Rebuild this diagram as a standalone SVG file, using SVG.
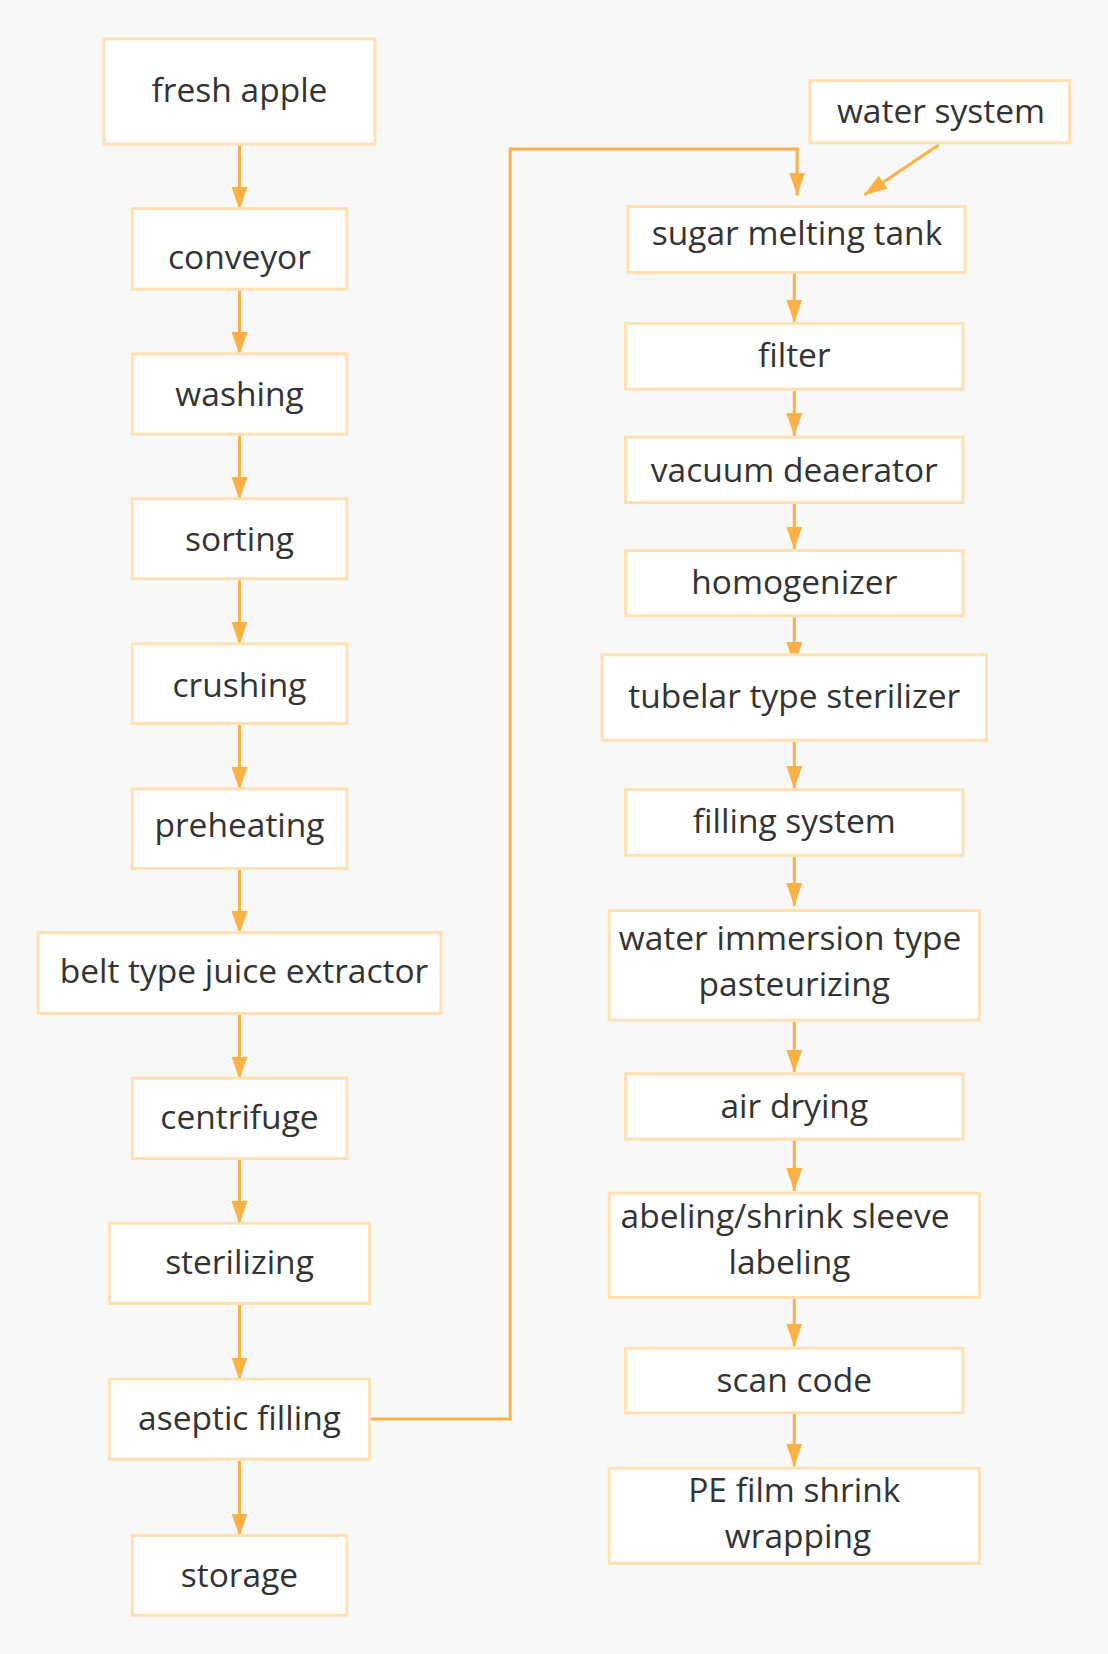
<svg xmlns="http://www.w3.org/2000/svg" width="1108" height="1654" viewBox="0 0 1108 1654">
<style>
.box{fill:#ffffff;stroke:#ffe1b3;stroke-width:3}
.lbl{font-family:"Open Sans","Noto Sans","DejaVu Sans",sans-serif;font-size:33.5px;fill:#333333;text-anchor:middle}
.con{fill:none;stroke:#fdb044;stroke-width:3}
</style>
<defs>
<marker id="ah" markerUnits="userSpaceOnUse" markerWidth="23" markerHeight="16" refX="23" refY="8" orient="auto" viewBox="0 0 23 16">
<path d="M0,0 L23,8 L0,16 z" fill="#fdb044"/>
</marker>
</defs>
<rect x="0" y="0" width="1108" height="1654" fill="#f8f8f8"/>
<g id="connectors">
<line class="con" x1="239.5" y1="145.7" x2="239.5" y2="210" marker-end="url(#ah)"/>
<line class="con" x1="239.5" y1="290.7" x2="239.5" y2="355" marker-end="url(#ah)"/>
<line class="con" x1="239.5" y1="435.7" x2="239.5" y2="500" marker-end="url(#ah)"/>
<line class="con" x1="239.5" y1="580.3" x2="239.5" y2="645" marker-end="url(#ah)"/>
<line class="con" x1="239.5" y1="725" x2="239.5" y2="790" marker-end="url(#ah)"/>
<line class="con" x1="239.5" y1="870" x2="239.5" y2="934" marker-end="url(#ah)"/>
<line class="con" x1="239.5" y1="1015" x2="239.5" y2="1079.5" marker-end="url(#ah)"/>
<line class="con" x1="239.5" y1="1160" x2="239.5" y2="1224" marker-end="url(#ah)"/>
<line class="con" x1="239.5" y1="1305" x2="239.5" y2="1380.5" marker-end="url(#ah)"/>
<line class="con" x1="239.5" y1="1460.7" x2="239.5" y2="1536.5" marker-end="url(#ah)"/>
<path class="con" d="M371,1419 H510.2 V149 H797.1 V195.5" marker-end="url(#ah)"/>
<line class="con" x1="938.5" y1="145" x2="864.2" y2="195" marker-end="url(#ah)"/>
<line class="con" x1="794.3" y1="274" x2="794.3" y2="322.5" marker-end="url(#ah)"/>
<line class="con" x1="794.3" y1="390.7" x2="794.3" y2="436" marker-end="url(#ah)"/>
<line class="con" x1="794.3" y1="504" x2="794.3" y2="549.5" marker-end="url(#ah)"/>
<line class="con" x1="794.3" y1="617.3" x2="794.3" y2="665" marker-end="url(#ah)"/>
<line class="con" x1="794.3" y1="741.7" x2="794.3" y2="789" marker-end="url(#ah)"/>
<line class="con" x1="794.3" y1="856.7" x2="794.3" y2="906" marker-end="url(#ah)"/>
<line class="con" x1="794.3" y1="1021.7" x2="794.3" y2="1072.5" marker-end="url(#ah)"/>
<line class="con" x1="794.3" y1="1140.7" x2="794.3" y2="1191" marker-end="url(#ah)"/>
<line class="con" x1="794.3" y1="1299" x2="794.3" y2="1346.5" marker-end="url(#ah)"/>
<line class="con" x1="794.3" y1="1414.3" x2="794.3" y2="1466.5" marker-end="url(#ah)"/>
</g>
<g id="fresh-apple"><rect class="box" x="104" y="38.8" width="271" height="105.4"/><text class="lbl" x="239.5" y="101.7">fresh apple</text></g>
<g id="conveyor"><rect class="box" x="132.2" y="208.5" width="214.7" height="80.7"/><text class="lbl" x="239.5" y="269">conveyor</text></g>
<g id="washing"><rect class="box" x="132.2" y="353.8" width="214.7" height="80.4"/><text class="lbl" x="239.5" y="406">washing</text></g>
<g id="sorting"><rect class="box" x="132.2" y="498.8" width="214.7" height="80"/><text class="lbl" x="239.5" y="550.7">sorting</text></g>
<g id="crushing"><rect class="box" x="132.2" y="643.8" width="214.7" height="79.7"/><text class="lbl" x="239.5" y="696.7">crushing</text></g>
<g id="preheating"><rect class="box" x="132.2" y="788.8" width="214.7" height="79.7"/><text class="lbl" x="239.5" y="837">preheating</text></g>
<g id="belt-extractor"><rect class="box" x="38.2" y="932.5" width="402.7" height="81"/><text class="lbl" x="244" y="983.3">belt type juice extractor</text></g>
<g id="centrifuge"><rect class="box" x="132.2" y="1078.2" width="214.7" height="80.3"/><text class="lbl" x="239.5" y="1129.3">centrifuge</text></g>
<g id="sterilizing"><rect class="box" x="109.3" y="1223.2" width="260.2" height="80.3"/><text class="lbl" x="239.5" y="1274">sterilizing</text></g>
<g id="aseptic-filling"><rect class="box" x="109.3" y="1379.2" width="260.2" height="80"/><text class="lbl" x="239.5" y="1430">aseptic filling</text></g>
<g id="storage"><rect class="box" x="132.2" y="1535.5" width="214.7" height="79.7"/><text class="lbl" x="239.5" y="1586.7">storage</text></g>
<g id="water-system"><rect class="box" x="809.9" y="80.5" width="259.6" height="62.3"/><text class="lbl" x="941" y="123.3">water system</text></g>
<g id="sugar-melting-tank"><rect class="box" x="627.9" y="206.5" width="337.3" height="66"/><text class="lbl" x="797" y="245">sugar melting tank</text></g>
<g id="filter"><rect class="box" x="625.5" y="323.5" width="337.6" height="65.7"/><text class="lbl" x="794.3" y="366.7">filter</text></g>
<g id="vacuum-deaerator"><rect class="box" x="625.5" y="437.2" width="337.6" height="65.3"/><text class="lbl" x="794.3" y="481.7">vacuum deaerator</text></g>
<g id="homogenizer"><rect class="box" x="625.5" y="550.5" width="337.6" height="65.3"/><text class="lbl" x="794.3" y="594.3">homogenizer</text></g>
<g id="tubelar-sterilizer"><rect class="box" x="602.1" y="654.8" width="384.4" height="85.4"/><text class="lbl" x="794.3" y="708.3">tubelar type sterilizer</text></g>
<g id="filling-system"><rect class="box" x="625.5" y="789.8" width="337.6" height="65.4"/><text class="lbl" x="794.3" y="833.3">filling system</text></g>
<g id="water-immersion"><rect class="box" x="609.2" y="910.5" width="370.2" height="109.7"/><text class="lbl"><tspan x="790" y="949.5">water immersion type</tspan><tspan x="794.3" y="995.5">pasteurizing</tspan></text></g>
<g id="air-drying"><rect class="box" x="625.5" y="1073.8" width="337.6" height="65.4"/><text class="lbl" x="794.3" y="1118.3">air drying</text></g>
<g id="labeling"><rect class="box" x="609.2" y="1193.2" width="370.2" height="104.3"/><text class="lbl"><tspan x="785" y="1228.3">abeling/shrink sleeve</tspan><tspan x="789.5" y="1274.3">labeling</tspan></text></g>
<g id="scan-code"><rect class="box" x="625.5" y="1348.2" width="337.6" height="64.6"/><text class="lbl" x="794.3" y="1391.7">scan code</text></g>
<g id="pe-film"><rect class="box" x="609.2" y="1468.2" width="370.2" height="95.3"/><text class="lbl"><tspan x="794.3" y="1502">PE film shrink</tspan><tspan x="798" y="1548">wrapping</tspan></text></g>
</svg>
